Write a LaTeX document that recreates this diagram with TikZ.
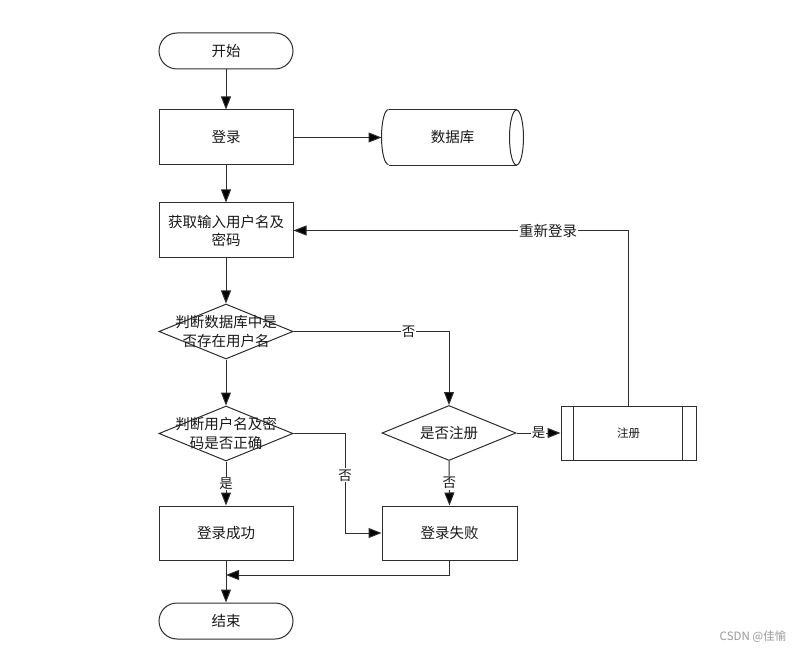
\documentclass[tikz,border=0pt]{standalone}
\usepackage{fontspec}
\setmainfont{Noto Sans CJK SC}
\usetikzlibrary{arrows.meta,shapes.geometric,calc}
\definecolor{linec}{RGB}{45,45,45}
\definecolor{txt}{RGB}{25,25,25}
\begin{document}
\begin{tikzpicture}[x=1pt,y=-1pt,
  box/.style={draw=linec, line width=1pt, minimum width=134pt, minimum height=55pt, inner sep=0pt, font=\fontsize{14.5}{18}\selectfont, align=center, text=txt},
  term/.style={box, rounded corners=18pt, minimum height=36pt},
  dia/.style={diamond, draw=linec, line width=1pt, minimum width=134pt, minimum height=55pt, inner sep=0pt},
  dtext/.style={font=\fontsize{14.5}{19}\selectfont, align=center, text=txt, inner sep=0pt},
  lab/.style={fill=white, inner sep=1pt, font=\fontsize{13.5}{15}\selectfont, text=txt},
  arr/.style={draw=linec, line width=1pt, -{Triangle[length=13pt,width=10pt,fill=black]}},
  conn/.style={draw=linec, line width=1pt}
]
\useasboundingbox (0,0) rectangle (803,652);
\fill[white] (0,0) rectangle (803,652);

% nodes
\node[term] (start) at (226,51) {开始};
\node[box] (login) at (226,137.5) {登录};
\node[box, draw=none, minimum width=141pt] (db) at (452.5,137.5) {数据库};
\draw[conn] ($(db.north west)+(7,0)$) -- ($(db.north east)+(-7,0)$)
            ($(db.south west)+(7,0)$) -- ($(db.south east)+(-7,0)$);
\draw[conn] ($(db.north west)+(7,0)$) arc[start angle=270, end angle=90, x radius=7, y radius=27.5];
\draw[conn] ($(db.east)+(-7,0)$) ellipse[x radius=7, y radius=27.5];

\node[box] (input) at (226,230.5) {获取输入用户名及\\密码};
\node[dia] (d1) at (226,331.5) {};
\node[dtext] (t1) at (d1) {判断数据库中是\\否存在用户名};
\node[dia] (d2) at (226,433.5) {};
\node[dtext] (t2) at (d2) {判断用户名及密\\码是否正确};
\node[dia] (d3) at (449,433) {};
\node[dtext] (t3) at (d3) {是否注册};
\node[box, minimum width=135pt, minimum height=54pt, font=\fontsize{11.5}{13}\selectfont] (reg) at (628.5,433) {注册};
\draw[conn] ($(reg.north west)+(13,0)$) -- ($(reg.south west)+(13,0)$);
\draw[conn] ($(reg.north east)+(-14,0)$) -- ($(reg.south east)+(-14,0)$);
\node[box, minimum height=54pt] (ok) at (226,533) {登录成功};
\node[box, minimum width=135pt, minimum height=54pt] (fail) at (449.5,533) {登录失败};
\node[term] (end) at (226,621) {结束};

\coordinate (c1) at (345,433.5);
\coordinate (c2) at (345,533);
\coordinate (m) at (226,575);

% connectors
\draw[arr] (start) -- (login);
\draw[arr] (login) -- (input);
\draw[arr] (login.east) -- (db.west);
\draw[arr] (input) -- (d1);
\draw[arr] (d1.east) -- node[lab, pos=0.74]{否} (d1.east -| d3.north) -- (d3.north);
\draw[arr] (d1) -- (d2);
\draw[arr] (d2) -- node[lab]{是} (ok);
\draw[arr] (d2.east) -- (c1) -- node[lab, pos=0.42]{否} (c2) -- (fail.west);
\draw[arr] (d3.east) -- node[lab]{是} (reg.west);
\draw[arr] (d3.south) -- node[lab]{否} (fail.north);
\draw[arr] (reg.north) -- (reg.north |- input.east) -- node[lab, pos=0.24, font=\fontsize{14.5}{16}\selectfont]{重新登录} (input.east);
\draw[arr] (fail.south) |- (m);
\draw[arr] (ok) -- (end);

\node[text=gray!80, font=\fontsize{11.5}{13}\selectfont] (wm) at (753,637) {CSDN @佳愉};
\end{tikzpicture}
\end{document}
